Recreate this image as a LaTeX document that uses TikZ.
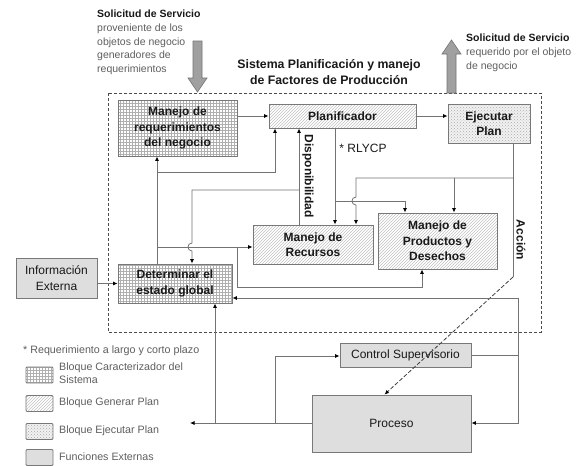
\documentclass[tikz,border=0pt]{standalone}
\usepackage{fontspec}
\setmainfont{Liberation Sans}
\usetikzlibrary{arrows.meta,patterns,calc}
\definecolor{boxline}{RGB}{120,120,120}
\definecolor{connc}{RGB}{115,115,115}
\definecolor{txtgray}{RGB}{95,95,95}
\definecolor{extfill}{RGB}{222,222,222}
\definecolor{bigarrow}{RGB}{160,160,160}
\definecolor{gridc}{RGB}{175,175,175}
\definecolor{hatchc}{RGB}{195,195,195}
\definecolor{dotc}{RGB}{170,170,170}
\begin{document}
\begin{tikzpicture}[x=1pt,y=-1pt,
  blk/.style={draw=boxline, line width=0.9pt, inner sep=0pt, align=center,
    font=\fontsize{12}{15.5}\selectfont\bfseries, text=black!90},
  carac/.style={blk, preaction={fill=white}, pattern=grid, pattern color=gridc},
  genplan/.style={blk, preaction={fill=white}, pattern=north east lines, pattern color=hatchc},
  ejplan/.style={blk, preaction={fill=gray!10}, pattern=crosshatch dots, pattern color=dotc},
  extern/.style={blk, fill=extfill, font=\fontsize{12}{15.5}\selectfont},
  conn/.style={draw=connc, line width=0.8pt},
  arr/.style={conn, -{Latex[length=4.5pt,width=4pt,color=black]}},
  lbl/.style={inner sep=0pt, text=black!90},
  legbox/.style={draw=boxline, line width=0.8pt, rounded corners=1pt, minimum width=27pt, minimum height=16pt, inner sep=0pt},
  legtxt/.style={inner sep=0pt, anchor=west, text=txtgray, font=\fontsize{10.7}{13.5}\selectfont, align=left}
]
\useasboundingbox (0,0) rectangle (582,466);
\fill[white] (0,0) rectangle (582,466);

% system boundary
\draw[black!70, line width=1pt, dash pattern=on 3pt off 2pt] (108,93) rectangle (541,332);

% title
\node[lbl, align=center, font=\fontsize{12.3}{16}\selectfont\bfseries] (title) at (329,72)
  {Sistema Planificación y manejo\\de Factores de Producción};

% service request texts
\node[lbl, anchor=north west, align=left, font=\fontsize{10.5}{13.7}\selectfont] (sol1) at (97,10)
  {\textbf{Solicitud de Servicio}\\\textcolor{txtgray}{proveniente de los}\\\textcolor{txtgray}{objetos de negocio}\\\textcolor{txtgray}{generadores de}\\\textcolor{txtgray}{requerimientos}};
\node[lbl, anchor=north west, align=left, font=\fontsize{10.5}{13.7}\selectfont] (sol2) at (466,34)
  {\textbf{Solicitud de Servicio}\\\textcolor{txtgray}{requerido por el objeto}\\\textcolor{txtgray}{de negocio}};

% big block arrows
\filldraw[fill=bigarrow, draw=black!55, line width=0.6pt]
  (193,41) -- (202,41) -- (202,78) -- (207,78) -- (197.5,92) -- (188,78) -- (193,78) -- cycle;
\filldraw[fill=bigarrow, draw=black!55, line width=0.6pt]
  (447,93) -- (456,93) -- (456,54) -- (461,54) -- (451.5,40) -- (442,54) -- (447,54) -- cycle;

% blocks
\node[carac, minimum width=119pt, minimum height=56pt] (req) at (177.5,128) {Manejo de\\requerimientos\\del negocio};
\node[genplan, minimum width=147pt, minimum height=24pt] (plan) at (342.5,116) {Planificador};
\node[ejplan, minimum width=82pt, minimum height=39pt] (ejec) at (489,123.5) {Ejecutar\\Plan};
\node[genplan, minimum width=120pt, minimum height=39pt] (rec) at (313,244.5) {Manejo de\\Recursos};
\node[genplan, minimum width=119pt, minimum height=56pt] (prod) at (437.5,241) {Manejo de\\Productos y\\Desechos};
\node[carac, minimum width=114pt, minimum height=39pt] (det) at (175,283.5) {Determinar el\\estado global};
\node[extern, minimum width=81pt, minimum height=40pt] (info) at (56.5,278) {Información\\Externa};
\node[extern, minimum width=131pt, minimum height=24pt] (ctrl) at (405.5,355) {Control Supervisorio};
\node[extern, minimum width=159pt, minimum height=57pt] (proc) at (391.5,423.5) {Proceso};

% junction coordinates
\coordinate (d1) at (157,172);
\coordinate (d2) at (157,247);
\coordinate (d3) at (237,247);
\coordinate (d4) at (237,287);
\coordinate (d5) at (422,287);
\coordinate (d6) at (275,172);
\coordinate (r1) at (299,190);
\coordinate (r2) at (192,190);
\coordinate (p1) at (335,201);
\coordinate (p2) at (405,201);
\coordinate (e0) at (513,178);
\coordinate (e1) at (356,178);
\coordinate (e2) at (454,178);
\coordinate (e3) at (513,277);
\coordinate (c1) at (518,355);
\coordinate (c2) at (518,298);
\coordinate (c3) at (518,423);
\coordinate (q0) at (190,423);
\coordinate (q1) at (215,423);
\coordinate (q2) at (275,423);
\coordinate (q3) at (275,356);

% connectors
\draw[arr] (req.east |- plan.west) -- (plan.west);
\draw[arr] (plan.east) -- (plan.east -| ejec.west);
\draw[arr] (info.east |- det.west) -- (det.west);

\draw[arr] (det.north -| d1) -- (req.south -| d1);
\draw[arr] (d1) -- (d6) -- (plan.south -| d6);
\draw[arr] (d2) -- (rec.west |- d2);
\draw[arr] (d3) -- (d4) -- (d5) -- (prod.south -| d5);

\draw[arr] (rec.north -| r1) -- (plan.south -| r1);
\draw[arr] (r1) -- (r2) -- ($(r2 |- d2)+(0,-4)$)
  .. controls ($(r2 |- d2)+(-5.3,-4)$) and ($(r2 |- d2)+(-5.3,4)$) .. ($(r2 |- d2)+(0,4)$)
  -- (det.north -| r2);

\draw[arr] (plan.south -| p1) -- (rec.north -| p1);
\draw[arr] (p1) -- (p2) -- (prod.north -| p2);

\draw[conn] (ejec.south -| e0) -- (e3);
\draw[arr] (e0) -- (e1) -- ($(e1 |- p1)+(0,-4)$)
  .. controls ($(e1 |- p1)+(-5.3,-4)$) and ($(e1 |- p1)+(-5.3,4)$) .. ($(e1 |- p1)+(0,4)$)
  -- (rec.north -| e1);
\draw[arr] (e2) -- (prod.north -| e2);
\draw[black!75, line width=0.8pt, dash pattern=on 4pt off 2pt, -{Latex[length=4.5pt,width=4pt,color=black]}]
  (e3) -- ($(proc.north)+(-7,0)$);

\draw[arr] (ctrl.east) -- (c1) -- (c2) -- (det.east |- c2);
\draw[arr] (c1) -- (c3) -- (proc.east |- c3);

\draw[arr] (proc.west |- q0) -- (q0);
\draw[arr] (q1) -- (det.south -| q1);
\draw[arr] (q2) -- (q3) -- (ctrl.west |- q3);

% connector labels
\node[lbl, rotate=-90, font=\fontsize{12}{14}\selectfont\bfseries] (disp) at (308,176) {Disponibilidad};
\node[lbl, font=\fontsize{12}{14}\selectfont] (rlycp) at (363,148) {* RLYCP};
\node[lbl, rotate=-90, font=\fontsize{12}{14}\selectfont\bfseries] (acc) at (521,240) {Acción};

% legend
\node[legtxt, text=txtgray] (nota) at (23,351) {* Requerimiento a largo y corto plazo};
\node[legbox, preaction={fill=white}, pattern=grid, pattern color=gridc] (lg1) at (39.5,375) {};
\node[legbox, preaction={fill=white}, pattern=north east lines, pattern color=hatchc] (lg2) at (39.5,403.5) {};
\node[legbox, preaction={fill=gray!10}, pattern=crosshatch dots, pattern color=dotc] (lg3) at (39.5,431.5) {};
\node[legbox, fill=extfill] (lg4) at (39.5,457.5) {};
\node[legtxt] (lt1) at (59,373) {Bloque Caracterizador del\\Sistema};
\node[legtxt] (lt2) at (59,403) {Bloque Generar Plan};
\node[legtxt] (lt3) at (59,431) {Bloque Ejecutar Plan};
\node[legtxt] (lt4) at (59,457) {Funciones Externas};
\end{tikzpicture}
\end{document}
